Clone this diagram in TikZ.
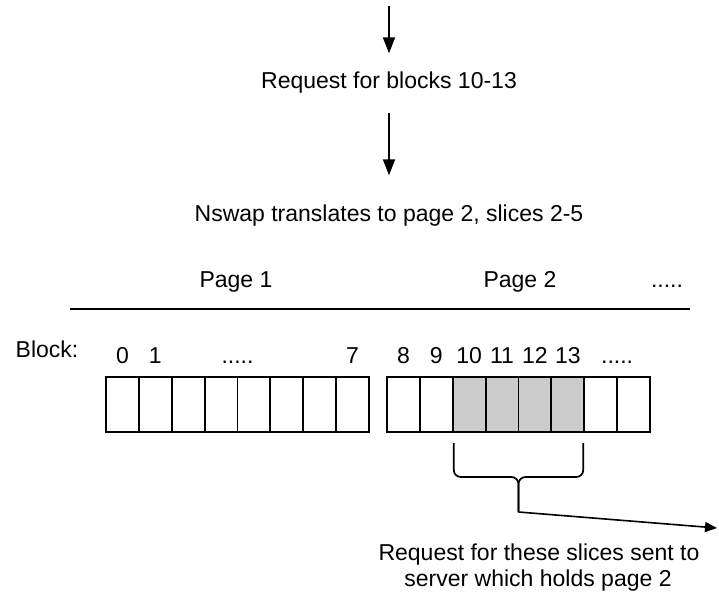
\documentclass[tikz,border=0pt]{standalone}
\usepackage{fontspec}
\setmainfont{Liberation Sans}
\usetikzlibrary{arrows.meta,calc}
\definecolor{cellgray}{RGB}{204,204,204}
\begin{document}
\begin{tikzpicture}[x=1pt,y=-1pt,
  txt/.style={font=\fontsize{23}{27}\selectfont, inner sep=0pt, outer sep=0pt},
  lbl/.style={txt, anchor=base},
  cell/.style={minimum width=32.875pt, minimum height=55pt, inner sep=0pt, outer sep=0pt},
  cellborder/.style={line width=1.8pt},
  arr/.style={line width=1.8pt, -{Triangle[length=16pt,width=12pt]}},
  arrsmall/.style={line width=1.6pt, -{Triangle[length=12pt,width=10pt]}},
  bracestyle/.style={line width=1.7pt, rounded corners=7pt},
]
\useasboundingbox (0,0) rectangle (719,595);

% top flow
\coordinate (top) at (389,6);
\node[lbl] (req) at (389,88) {Request for blocks 10-13};
\node[lbl] (nswap) at (389,221) {Nswap translates to page 2, slices 2-5};
\draw[arr, shorten >=18pt] (top) -- (req.north);
\draw[arr, shorten <=20pt, shorten >=29pt] (req.south) -- (nswap.north);

% page labels and rule
\node[lbl] (p1) at (236,287) {Page 1};
\node[lbl] (p2) at (520,287) {Page 2};
\node[lbl] (pd) at (667,287) {.....};
\coordinate (l1) at (70,309);
\coordinate (l2) at (690,309);
\draw[line width=2pt] (l1) -- (l2);

% cells (fills first, borders after)
\foreach \i in {0,...,7} {
  \node[cell, fill=white] (a\i) at ({106+32.875*(\i+0.5)},404.5) {};
}
\foreach \i/\f in {0/white,1/white,2/cellgray,3/cellgray,4/cellgray,5/cellgray,6/white,7/white} {
  \node[cell, fill=\f] (b\i) at ({387+32.875*(\i+0.5)},404.5) {};
}
\foreach \i in {0,...,7} {
  \draw[cellborder] (a\i.north west) rectangle (a\i.south east);
  \draw[cellborder] (b\i.north west) rectangle (b\i.south east);
}

% block labels
\node[lbl] (blk) at (47,357) {Block:};
\coordinate (nb) at (0,363);
\node[lbl] (n0) at (a0 |- nb) {0};
\node[lbl] (n1) at (a1 |- nb) {1};
\node[lbl] (nd1) at (a4.west |- nb) {.....};
\node[lbl] (n7) at (a7 |- nb) {7};
\node[lbl] (n8) at (b0 |- nb) {8};
\node[lbl] (n9) at (b1 |- nb) {9};
\node[lbl] (n10) at (b2 |- nb) {10};
\node[lbl] (n11) at (b3 |- nb) {11};
\node[lbl] (n12) at (b4 |- nb) {12};
\node[lbl] (n13) at (b5 |- nb) {13};
\node[lbl] (nd2) at (b7.west |- nb) {.....};

% brace
\coordinate (bl) at ([xshift=1pt, yshift=-11pt]b2.south west);
\coordinate (br) at ([xshift=-1pt, yshift=-11pt]b5.south east);
\coordinate (mid) at (0,477);
\coordinate (tip) at ($(b2.south west)!0.5!(b5.south east)$);
\coordinate (tipend) at (tip |- 0,512);
\draw[bracestyle] (bl) -- (bl |- mid) -- (tip |- mid) -- (tipend);
\draw[bracestyle] (br) -- (br |- mid) -- (tip |- mid) -- (tipend);

% outgoing arrow
\coordinate (far) at (717,528);
\draw[arrsmall] (tipend) -- (far);

% note
\node[lbl] (note1) at (539,560) {Request for these slices sent to};
\node[lbl] (note2) at (538,586) {server which holds page 2};
\end{tikzpicture}
\end{document}
